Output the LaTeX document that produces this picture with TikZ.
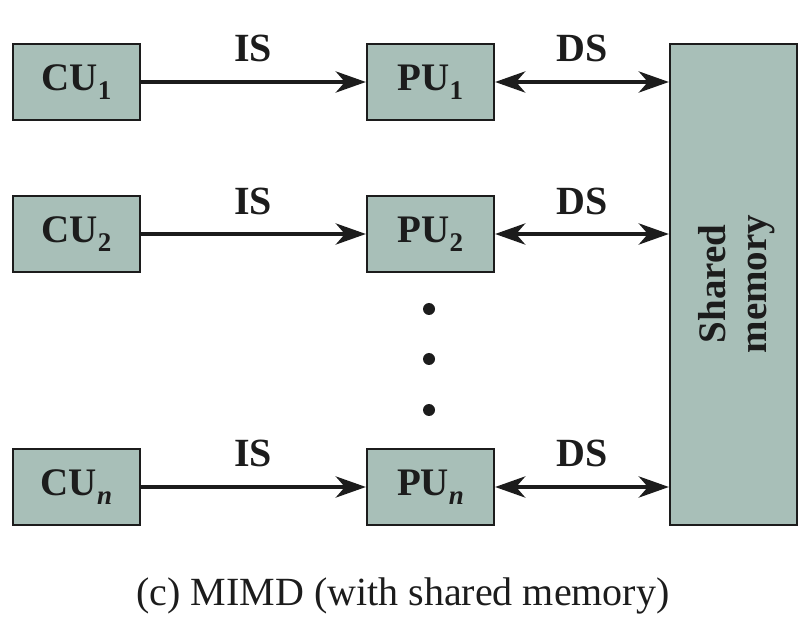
\documentclass[tikz,border=0pt]{standalone}
\usepackage{fontspec}
\setmainfont{Liberation Serif}
\usetikzlibrary{arrows.meta}
\definecolor{boxfill}{RGB}{168,191,184}
\definecolor{ink}{RGB}{28,28,28}
\newcommand{\subs}[1]{\raisebox{-9pt}{\fontsize{27}{27}\selectfont #1}}
\begin{document}
\begin{tikzpicture}[x=1pt,y=-1pt,
  unitbox/.style={draw=ink,line width=2.2pt,fill=boxfill,minimum width=127pt,minimum height=76pt,inner sep=0pt,font=\fontsize{39}{40}\selectfont\bfseries,text=ink},
  membox/.style={draw=ink,line width=2.2pt,fill=boxfill,minimum width=127pt,minimum height=481pt,inner sep=0pt},
  conn/.style={draw=ink,line width=4.3pt},
  tip/.style={-{Stealth[length=30pt,width=21pt,inset=9pt]}},
  dtip/.style={{Stealth[length=30pt,width=21pt,inset=9pt]}-{Stealth[length=30pt,width=21pt,inset=9pt]}},
  lab/.style={font=\fontsize{40}{40}\selectfont\bfseries,text=ink,anchor=base,inner sep=0pt},
  dot/.style={circle,fill=ink,minimum size=12pt,inner sep=0pt}]
\useasboundingbox (0,0) rectangle (812,620);
\node[membox] (mem) at (733.5,284.5) {};
\node[font=\fontsize{39}{41}\selectfont\bfseries,text=ink,rotate=90,align=center,inner sep=0pt] (memlab) at (737,284) {Shared\\memory};
\node[unitbox] (cu1) at (76.5,82) {CU\subs{1}};
\node[unitbox] (pu1) at (430.5,82) {PU\subs{1}};
\node[unitbox] (cu2) at (76.5,234) {CU\subs{2}};
\node[unitbox] (pu2) at (430.5,234) {PU\subs{2}};
\node[unitbox] (cun) at (76.5,487) {CU\subs{\textit{n}}};
\node[unitbox] (pun) at (430.5,487) {PU\subs{\textit{n}}};
\node[dot] (d1) at (429,309) {};
\node[dot] (d2) at (429,359) {};
\node[dot] (d3) at (429,410) {};
\draw[conn,tip] (cu1) -- (pu1);
\draw[conn,tip] (cu2) -- (pu2);
\draw[conn,tip] (cun) -- (pun);
\draw[conn,dtip] (pu1.east) -- (pu1.east -| mem.west);
\draw[conn,dtip] (pu2.east) -- (pu2.east -| mem.west);
\draw[conn,dtip] (pun.east) -- (pun.east -| mem.west);
\node[lab] (is1) at (253,62) {IS};
\node[lab] (ds1) at (582,62) {DS};
\node[lab] (is2) at (253,215) {IS};
\node[lab] (ds2) at (582,215) {DS};
\node[lab] (isn) at (253,467) {IS};
\node[lab] (dsn) at (582,467) {DS};
\node[font=\fontsize{40}{40}\selectfont,text=ink,anchor=base,inner sep=0pt] (cap) at (403,605) {(c) MIMD (with shared memory)};
\end{tikzpicture}
\end{document}
